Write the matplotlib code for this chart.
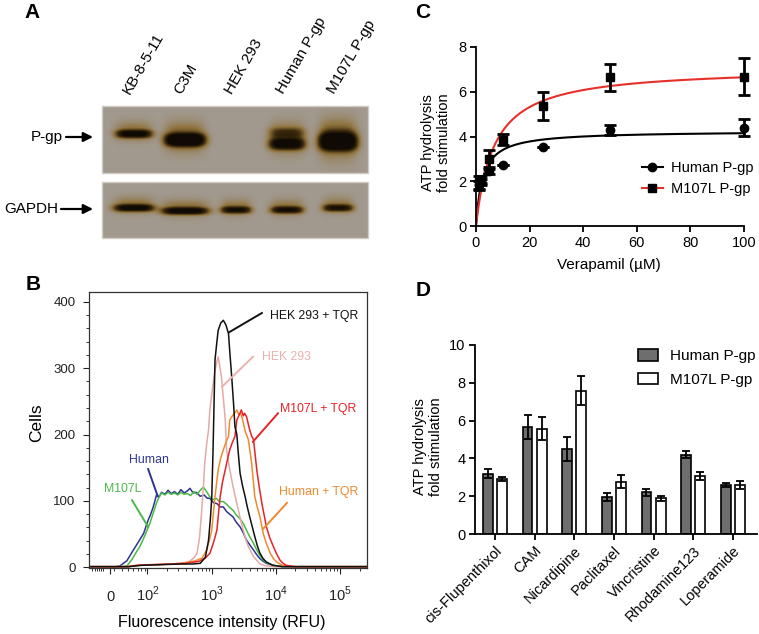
import numpy as np
import matplotlib
matplotlib.use('Agg')
import matplotlib.pyplot as plt
from matplotlib.colors import LinearSegmentedColormap
from matplotlib.lines import Line2D
from matplotlib.patches import Patch, Rectangle

plt.rcParams['font.family'] = ['Liberation Sans', 'DejaVu Sans']
plt.rcParams['mathtext.fontset'] = 'custom'
plt.rcParams['mathtext.rm'] = 'Liberation Sans'

W, H = 759, 634

# ---------------- data ----------------
# A: western blot, relative band darkness per lane
lanes = ['KB-8-5-11', 'C3M', 'HEK 293', 'Human P-gp', 'M107L P-gp']
pgp_level = [0.9, 1.4, 0.0, 1.0, 1.4]
pgp_smear = [0.0, 0.0, 0.0, 0.4, 0.15]
gapdh_level = [0.9, 0.95, 0.8, 0.8, 0.75]

# B: flow cytometry histograms (x = log10 fluorescence, y = cells)
blue_u = [1.10, 1.50, 1.57, 1.68, 1.78, 1.87, 1.94, 2.01, 2.05, 2.09, 2.14, 2.18, 2.22, 2.27, 2.32, 2.37,
          2.42, 2.47, 2.52, 2.57, 2.62, 2.66, 2.71, 2.76, 2.82, 2.88, 2.93, 2.97, 3.03, 3.08, 3.13, 3.18,
          3.23, 3.28, 3.33, 3.38, 3.44, 3.49, 3.54, 3.59, 3.65, 3.70, 3.75, 3.80, 3.85, 3.95, 4.10, 5.41]
blue_c = [1, 1, 2, 10, 26, 40, 51, 71, 80, 91, 109, 106, 113, 110, 116, 111,
          114, 110, 117, 112, 115, 119, 112, 113, 107, 109, 104, 104, 97, 96, 91, 91,
          84, 80, 76, 68, 61, 52, 41, 34, 26, 19, 13, 9, 6, 3, 1, 1]
green_u = [1.10, 1.60, 1.68, 1.76, 1.82, 1.88, 1.96, 2.04, 2.09, 2.14, 2.18, 2.22, 2.27, 2.32, 2.37, 2.42,
           2.47, 2.52, 2.57, 2.62, 2.67, 2.72, 2.77, 2.82, 2.87, 2.92, 2.97, 3.02, 3.07, 3.12, 3.18, 3.23,
           3.28, 3.33, 3.38, 3.44, 3.49, 3.54, 3.59, 3.65, 3.70, 3.75, 3.80, 3.85, 3.90, 4.00, 4.20, 5.41]
green_c = [1, 1, 2, 12, 22, 31, 48, 67, 82, 97, 106, 112, 109, 113, 110, 112,
           109, 113, 110, 111, 108, 114, 110, 116, 121, 114, 106, 102, 104, 99, 99, 95,
           90, 86, 79, 73, 66, 56, 46, 36, 26, 18, 11, 7, 5, 2, 1, 1]
pink_u = [1.10, 1.70, 1.80, 2.00, 2.30, 2.55, 2.65, 2.72, 2.77, 2.81, 2.84, 2.87, 2.89, 2.92, 2.95, 2.97,
          3.01, 3.05, 3.08, 3.10, 3.12, 3.15, 3.18, 3.21, 3.23, 3.28, 3.33, 3.39, 3.44, 3.49, 3.53, 3.57,
          3.65, 3.75, 3.85, 4.00, 5.41]
pink_c = [1, 1, 3, 4, 5, 6, 9, 14, 21, 45, 81, 120, 157, 185, 207, 237,
          268, 297, 310, 317, 305, 287, 255, 222, 177, 147, 122, 96, 75, 56, 42, 31,
          16, 5, 2, 1, 1]
black_u = [1.10, 1.70, 1.90, 2.20, 2.50, 2.70, 2.82, 2.90, 2.95, 2.98, 3.00, 3.02, 3.05, 3.08, 3.10, 3.14,
           3.18, 3.22, 3.26, 3.28, 3.31, 3.34, 3.36, 3.39, 3.41, 3.44, 3.48, 3.52, 3.55, 3.59, 3.63, 3.67,
           3.71, 3.75, 3.80, 3.85, 3.95, 4.10, 5.41]
black_c = [1, 1, 3, 4, 5, 5, 6, 15, 41, 75, 106, 177, 312, 340, 357, 368,
           372, 365, 352, 325, 287, 245, 212, 200, 175, 142, 122, 106, 92, 76, 61, 46,
           32, 21, 13, 8, 3, 1, 1]
orange_u = [1.10, 1.70, 1.85, 2.10, 2.40, 2.60, 2.75, 2.85, 2.92, 2.96, 3.00, 3.05, 3.10, 3.14, 3.18, 3.22,
            3.26, 3.28, 3.32, 3.36, 3.39, 3.42, 3.45, 3.48, 3.52, 3.57, 3.62, 3.67, 3.71, 3.75, 3.80, 3.85,
            3.91, 3.96, 4.01, 4.10, 4.25, 5.41]
orange_c = [1, 1, 3, 4, 5, 7, 10, 14, 26, 40, 56, 106, 147, 165, 177, 188,
            197, 222, 228, 233, 237, 230, 232, 222, 205, 192, 157, 106, 90, 76, 51, 36,
            21, 13, 8, 3, 1, 1]
red_u = [1.10, 1.70, 1.85, 2.10, 2.40, 2.60, 2.80, 2.90, 2.97, 3.03, 3.08, 3.13, 3.17, 3.21, 3.25, 3.28,
         3.32, 3.36, 3.39, 3.42, 3.46, 3.49, 3.51, 3.54, 3.57, 3.59, 3.62, 3.65, 3.70, 3.74, 3.78, 3.82,
         3.85, 3.90, 3.96, 4.01, 4.06, 4.11, 4.16, 4.30, 5.41]
red_c = [1, 1, 3, 4, 5, 6, 9, 14, 21, 38, 56, 106, 130, 147, 165, 177,
         188, 197, 222, 228, 237, 228, 232, 227, 215, 207, 198, 192, 147, 120, 96, 76,
         61, 45, 31, 20, 11, 6, 3, 1, 1]

# C: verapamil-stimulated ATP hydrolysis
verapamil = [1, 2, 5, 10, 25, 50, 100]
human_atp = [1.82, 2.0, 2.44, 2.72, 3.53, 4.30, 4.40]
human_sd = [0.2, 0.1, 0.12, 0.0, 0.0, 0.22, 0.36]
m107l_atp = [1.95, 2.05, 3.0, 3.86, 5.35, 6.65, 6.68]
m107l_sd = [0.3, 0.2, 0.38, 0.25, 0.62, 0.6, 0.82]
human_vmax, human_km = 4.25, 2.5
m107l_vmax, m107l_km = 7.09, 6.67

# D: drug-stimulated ATP hydrolysis
drugs = ['cis-Flupenthixol', 'CAM', 'Nicardipine', 'Paclitaxel', 'Vincristine', 'Rhodamine123', 'Loperamide']
human_fold = [3.2, 5.67, 4.49, 1.96, 2.2, 4.19, 2.6]
human_fold_sd = [0.25, 0.65, 0.62, 0.22, 0.18, 0.18, 0.1]
m107l_fold = [2.9, 5.58, 7.58, 2.77, 1.89, 3.07, 2.58]
m107l_fold_sd = [0.12, 0.62, 0.78, 0.33, 0.12, 0.2, 0.2]


def fig_rect(x0, y0, x1, y1):
    return [x0 / W, 1 - y1 / H, (x1 - x0) / W, (y1 - y0) / H]


fig = plt.figure(figsize=(W / 100, H / 100), dpi=100)

# panel letters
for letter, (lx, ly) in zip('ABCD', [(32, 12), (33, 285), (423, 12), (423, 290)]):
    fig.text(lx / W, 1 - ly / H, letter, fontsize=15, fontweight='bold', ha='center', va='center')

# ---------------- A ----------------
axa = fig.add_axes(fig_rect(0, 0, 380, 260))
axa.set_xlim(0, 380)
axa.set_ylim(260, 0)
axa.axis('off')

blot_cmap = LinearSegmentedColormap.from_list(
    'blot', [(0, '#a1998e'), (0.25, '#8f723c'), (0.6, '#3f2c0e'), (1, '#0f0a04')])
lane_x = [134 + 51 * i for i in range(len(lanes))]


def draw_blot(y0, y1, bands):
    xs = np.arange(102, 368) + 0.5
    ys = np.arange(y0, y1) + 0.5
    X, Y = np.meshgrid(xs, ys)
    D = np.zeros_like(X)
    for cx, level, cy, hw, hh in bands:
        horiz = np.exp(-np.abs((X - cx) / hw) ** 4)
        D += level * horiz * np.exp(-np.abs((Y - cy) / hh) ** 2.5)
        # brownish halo, mostly above the band
        D += 0.3 * level * horiz * np.exp(-((Y - cy + 3) / (hh * 2.2)) ** 2)
    axa.imshow(np.clip(D, 0, 1), cmap=blot_cmap, vmin=0, vmax=1, extent=(102, 368, y1, y0),
               interpolation='bilinear', aspect='auto')
    axa.add_patch(Rectangle((102, y0), 266, y1 - y0, fill=False, edgecolor='#cfcac3', lw=1))


pgp_bands = []
for i, cx in enumerate(lane_x):
    pgp_bands.append((cx, pgp_level[i], [134, 140, 140, 144, 142][i], [18, 19.5, 18, 17.5, 18.5][i],
                      [4, 6, 6, 5.5, 8][i]))
    pgp_bands.append((cx, pgp_smear[i], 133, 17.5, 5))
gapdh_bands = [(cx, gapdh_level[i], [208, 211, 210, 210, 208][i], [20, 23, 15, 16, 15][i], 3.5)
               for i, cx in enumerate(lane_x)]
draw_blot(106, 173, pgp_bands)
draw_blot(182, 238, gapdh_bands)

for i, name in enumerate(lanes):
    axa.text(lane_x[i] - 4, 95, name, rotation=60, rotation_mode='anchor', ha='left', va='baseline',
             fontsize=11)

for name, yy, xr in [('P-gp', 137, 63), ('GAPDH', 209, 58)]:
    axa.text(xr, yy, name, ha='right', va='center', fontsize=11)
    axa.annotate('', xy=(93, yy), xytext=(xr + 3, yy),
                 arrowprops=dict(arrowstyle='-|>', color='k', lw=1.6, mutation_scale=14,
                                 shrinkA=0, shrinkB=0))

# ---------------- B ----------------
axb = fig.add_axes(fig_rect(89.3, 292, 366.7, 568))
curves = [(blue_u, blue_c, '#2e3592'), (green_u, green_c, '#4bb84a'), (pink_u, pink_c, '#e4aaa6'),
          (orange_u, orange_c, '#ef8a2e'), (red_u, red_c, '#e42428'), (black_u, black_c, '#111111')]
for u, c, col in curves:
    axb.plot(u, c, color=col, lw=1.1)
axb.set_xlim(1.095, 5.41)
axb.set_ylim(-1, 414.6)
for s in axb.spines.values():
    s.set_linewidth(0.9)
    s.set_color('#333333')
axb.set_yticks([0, 100, 200, 300, 400])
axb.set_yticks(np.arange(0, 420, 20), minor=True)
axb.tick_params(axis='y', which='major', length=4, width=0.8, labelsize=9.5, pad=6, colors='#222222')
axb.tick_params(axis='y', which='minor', length=2.2, width=0.7, colors='#333333')
minor_x = [np.log10(m * 10 ** k) for k in range(1, 6) for m in range(2, 10)]
minor_x = [v for v in minor_x if 1.095 < v < 5.41] + [1.14, 1.18, 1.21, 1.24, 1.27]
axb.set_xticks([1.42, 2, 3, 4, 5])
axb.set_xticklabels(['0', '$10^2$', '$10^3$', '$10^4$', '$10^5$'])
axb.set_xticks(minor_x, minor=True)
axb.tick_params(axis='x', which='major', length=4, width=0.8, labelsize=10.5, pad=20, colors='#222222')
axb.tick_params(axis='x', which='minor', length=2.5, width=0.7, colors='#333333')
for lab in axb.get_xticklabels():
    lab.set_va('baseline')
axb.set_ylabel('Cells', fontsize=12.5, va='center')
axb.yaxis.set_label_coords(-0.189, 0.525)
axb.set_xlabel('Fluorescence intensity (RFU)', fontsize=11.5, va='center')
axb.xaxis.set_label_coords(0.478, -0.199)

labels_b = [('HEK 293 + TQR', '#111111', (3.905, 378), (3.27, 354), (3.78, 383)),
            ('HEK 293', '#e8b2ae', (3.78, 317), (3.16, 272), (3.64, 317)),
            ('M107L + TQR', '#e42428', (4.06, 238), (3.64, 189), (4.03, 232)),
            ('Human + TQR', '#ef8a2e', (4.045, 113), (3.80, 58), (4.17, 97))]
for txt, col, tpos, p0, p1 in labels_b:
    axb.plot([p0[0], p1[0]], [p0[1], p1[1]], color=col, lw=1.4)
    axb.text(tpos[0], tpos[1], txt, color=col, fontsize=8.8, ha='left', va='center')
for txt, col, tpos, p0, p1 in [('Human', '#2e3592', (2.02, 162), (2.16, 107), (2.01, 148)),
                               ('M107L', '#4bb84a', (1.62, 118), (2.01, 61), (1.76, 101))]:
    axb.plot([p0[0], p1[0]], [p0[1], p1[1]], color=col, lw=1.4)
    axb.text(tpos[0], tpos[1], txt, color=col, fontsize=8.8, ha='center', va='center')

# ---------------- C ----------------
axc = fig.add_axes(fig_rect(476, 47, 744, 226))
xfit = np.linspace(0, 100, 400)
axc.plot(xfit, human_vmax * xfit / (human_km + xfit), color='k', lw=1.5, zorder=2)
axc.plot(xfit, m107l_vmax * xfit / (m107l_km + xfit), color='#e8302a', lw=1.5, zorder=2)
axc.errorbar(verapamil, human_atp, yerr=human_sd, fmt='o', color='k', ms=6, elinewidth=2,
             capsize=4, capthick=2, clip_on=False, zorder=3)
axc.errorbar(verapamil, m107l_atp, yerr=m107l_sd, fmt='s', color='k', ms=5.5, elinewidth=2,
             capsize=4, capthick=2, clip_on=False, zorder=3)
axc.set_xlim(0, 100)
axc.set_ylim(0, 8)
axc.set_xticks(range(0, 101, 20))
axc.set_yticks(range(0, 9, 2))
for s in ['top', 'right']:
    axc.spines[s].set_visible(False)
for s in ['left', 'bottom']:
    axc.spines[s].set_linewidth(1.3)
axc.tick_params(length=4, width=1.3, labelsize=10.5, pad=3)
axc.set_xlabel('Verapamil (\u00b5M)', fontsize=11, va='center')
axc.xaxis.set_label_coords(0.496, -0.218)
axc.set_ylabel('ATP hydrolysis\nfold stimulation', fontsize=10.5, va='center', linespacing=1.15)
axc.yaxis.set_label_coords(-0.149, 0.464)
handles_c = [Line2D([], [], color='k', marker='o', ms=6, lw=1.5),
             Line2D([], [], color='#e8302a', marker='s', mfc='k', mec='k', ms=5.5, lw=1.5)]
axc.legend(handles_c, ['Human P-gp', 'M107L P-gp'], loc='center left', bbox_to_anchor=(0.62, 0.265),
           frameon=False, fontsize=10.5, handlelength=1.4, handletextpad=0.6, labelspacing=0.45,
           borderpad=0, borderaxespad=0)

# ---------------- D ----------------
axd = fig.add_axes(fig_rect(475, 345, 756.7, 534))
xd = np.arange(len(drugs))
bw = 0.25
axd.bar(xd - 0.18, human_fold, bw, yerr=human_fold_sd, color='#6e6e6e', edgecolor='k', lw=1.2,
        error_kw=dict(elinewidth=1.3, capsize=3, capthick=1.3, ecolor='k'))
axd.bar(xd + 0.18, m107l_fold, bw, yerr=m107l_fold_sd, color='white', edgecolor='k', lw=1.2,
        error_kw=dict(elinewidth=1.3, capsize=3, capthick=1.3, ecolor='k'))
axd.set_xlim(-0.504, 6.6)
axd.set_ylim(0, 10)
axd.set_yticks(range(0, 11, 2))
axd.set_xticks(xd)
axd.set_xticklabels(drugs, rotation=45, ha='right', rotation_mode='anchor')
for s in ['top', 'right']:
    axd.spines[s].set_visible(False)
for s in ['left', 'bottom']:
    axd.spines[s].set_linewidth(1.3)
axd.tick_params(length=4, width=1.3, labelsize=10.5, pad=3)
axd.set_ylabel('ATP hydrolysis\nfold stimulation', fontsize=10.5, va='center', linespacing=1.15)
axd.yaxis.set_label_coords(-0.167, 0.46)
handles_d = [Patch(facecolor='#6e6e6e', edgecolor='k', lw=1.2), Patch(facecolor='white', edgecolor='k', lw=1.2)]
axd.legend(handles_d, ['Human P-gp', 'M107L P-gp'], loc='center left', bbox_to_anchor=(0.578, 0.878),
           frameon=False, fontsize=11, handlelength=1.3, handleheight=0.8, handletextpad=0.8,
           labelspacing=0.6, borderpad=0, borderaxespad=0)

fig.savefig('out.png', dpi=100)
